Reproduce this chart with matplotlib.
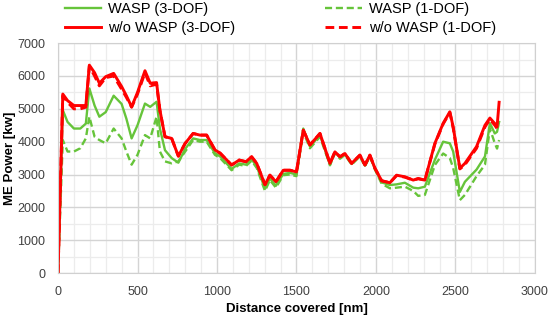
import numpy as np
import matplotlib
matplotlib.use("Agg")
import matplotlib.pyplot as plt
from matplotlib.ticker import MultipleLocator

plt.rcParams['font.family'] = ['Liberation Sans', 'DejaVu Sans']

# distance covered [nm]
dist = [0, 30, 60, 100, 140, 175, 197, 230, 260, 300, 350, 400, 430, 463, 500,
        547, 580, 620, 641, 673, 715, 757, 800, 850, 893, 935, 987, 1020, 1092,
        1140, 1182, 1218, 1250, 1302, 1333, 1371, 1417, 1460, 1500, 1543, 1585,
        1648, 1711, 1742, 1774, 1805, 1847, 1899, 1931, 1962, 1994, 2036, 2088,
        2130, 2182, 2235, 2266, 2308, 2371, 2423, 2465, 2486, 2528, 2560, 2633,
        2686, 2717, 2748, 2762, 2775]

# ME power [kW]
wasp_3dof = [0, 4960, 4600, 4400, 4400, 4550, 5620, 5100, 4760, 4900, 5400, 5150,
             4700, 4100, 4500, 5160, 5060, 5215, 4400, 3740, 3500, 3360, 3780,
             4100, 4050, 4050, 3650, 3550, 3170, 3340, 3300, 3460, 3250, 2570,
             2880, 2660, 3020, 3050, 3000, 4400, 3850, 4200, 3300, 3680, 3520,
             3620, 3320, 3570, 3270, 3570, 3170, 2760, 2680, 2700, 2750, 2600,
             2580, 2630, 3450, 4000, 3950, 3700, 2470, 2780, 3150, 3550, 4560,
             4250, 4300, 4600]
wasp_1dof = [0, 4050, 3700, 3700, 3800, 4100, 4760, 4150, 4050, 3950, 4400, 4100,
             3700, 3300, 3600, 4200, 4100, 4760, 3700, 3400, 3340, 3400, 3700,
             4050, 4000, 4000, 3600, 3500, 3130, 3300, 3260, 3420, 3200, 2500,
             2830, 2600, 2980, 3000, 2950, 4300, 3800, 4150, 3280, 3650, 3480,
             3600, 3300, 3550, 3250, 3550, 3150, 2720, 2580, 2600, 2630, 2500,
             2350, 2380, 3290, 3640, 3500, 3200, 2220, 2380, 2950, 3300, 4400,
             3950, 3790, 4050]
nowasp_3dof = [0, 5450, 5250, 5100, 5100, 5100, 6330, 6100, 5780, 5980, 6080, 5680,
               5400, 5060, 5500, 6160, 5780, 5800, 4960, 4150, 4100, 3560, 3950,
               4250, 4200, 4200, 3750, 3650, 3290, 3440, 3390, 3540, 3340, 2690,
               2980, 2780, 3130, 3130, 3080, 4350, 3900, 4250, 3340, 3690, 3540,
               3640, 3340, 3590, 3290, 3590, 3190, 2810, 2750, 2980, 2930, 2830,
               2880, 2830, 3950, 4560, 4910, 4450, 3190, 3340, 3850, 4500, 4720,
               4550, 4450, 5200]
nowasp_1dof = [0, 5400, 5200, 5000, 5000, 5050, 6300, 6000, 5700, 5950, 6000, 5600,
               5350, 5050, 5450, 6100, 5700, 5750, 4950, 4150, 4100, 3560, 3950,
               4250, 4200, 4200, 3750, 3650, 3290, 3440, 3390, 3540, 3340, 2690,
               2980, 2780, 3130, 3130, 3080, 4350, 3900, 4250, 3340, 3690, 3540,
               3640, 3340, 3590, 3290, 3590, 3190, 2810, 2750, 2970, 2920, 2830,
               2870, 2830, 3930, 4540, 4890, 4420, 3170, 3300, 3800, 4450, 4680,
               4500, 4400, 4500]

GREEN = '#66c43a'
RED = '#ff0000'

fig = plt.figure(figsize=(5.5, 3.22), dpi=100)
ax = fig.add_axes([0.1055, 0.152, 0.867, 0.714])

ax.plot(dist, wasp_3dof, '-', color=GREEN, lw=1.7, label='WASP (3-DOF)')
ax.plot(dist, wasp_1dof, '--', color=GREEN, lw=1.7, dashes=(3, 1.6), label='WASP (1-DOF)')
ax.plot(dist, nowasp_3dof, '-', color=RED, lw=2.1, label='w/o WASP (3-DOF)')
ax.plot(dist, nowasp_1dof, '--', color=RED, lw=2.1, dashes=(3, 1.6), label='w/o WASP (1-DOF)')

ax.set_xlim(0, 3000)
ax.set_ylim(0, 7000)
ax.xaxis.set_major_locator(MultipleLocator(500))
ax.xaxis.set_minor_locator(MultipleLocator(100))
ax.yaxis.set_major_locator(MultipleLocator(1000))
ax.yaxis.set_minor_locator(MultipleLocator(500))
ax.grid(True, which='major', color='#d4d4d4', lw=1.0)
ax.grid(True, which='minor', color='#ececec', lw=0.9)
ax.set_axisbelow(True)
ax.tick_params(which='both', length=0, labelsize=9, colors='#404040', pad=9)
for s in ax.spines.values():
    s.set_color('#d0d0d0')

ax.set_xlabel('Distance covered [nm]', fontsize=9.5, fontweight='bold', labelpad=4)
ax.set_ylabel('ME Power [kw]', fontsize=9.5, fontweight='bold', labelpad=1)

# legend order: row1 WASP 3/1-DOF, row2 w/o WASP 3/1-DOF
h, l = ax.get_legend_handles_labels()
order = [0, 2, 1, 3]
fig.legend([h[i] for i in order], [l[i] for i in order], ncol=2,
           loc='upper left', bbox_to_anchor=(0.107, 1.012), borderaxespad=0,
           frameon=False, fontsize=10.5, handlelength=2.5, columnspacing=6.15,
           labelspacing=0.35, handletextpad=0.5)

fig.savefig('out.png', dpi=100)
